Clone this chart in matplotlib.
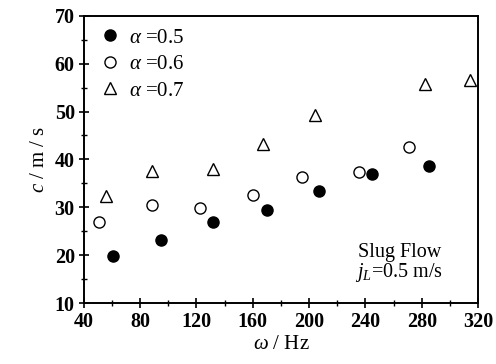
import matplotlib
matplotlib.use("Agg")
import matplotlib.pyplot as plt
from matplotlib.ticker import MultipleLocator

plt.rcParams['font.family'] = ['Liberation Serif', 'DejaVu Serif']
plt.rcParams['mathtext.fontset'] = 'custom'
plt.rcParams['mathtext.rm'] = 'Liberation Serif'
plt.rcParams['mathtext.it'] = 'Liberation Serif:italic'

freq_a05 = [60.4, 94.7, 131.9, 169.8, 207.2, 244.9, 285.4]
c_a05 = [19.9, 23.2, 26.9, 29.4, 33.5, 36.9, 38.6]
freq_a06 = [50.7, 88.5, 122.4, 160.3, 194.7, 235.5, 271.2]
c_a06 = [26.9, 30.5, 29.8, 32.6, 36.4, 37.3, 42.5]
freq_a07 = [55.6, 88.1, 131.9, 167.0, 204.2, 282.4, 314.3]
c_a07 = [32.4, 37.6, 38.1, 43.3, 49.2, 55.8, 56.5]
labels = [r'$\alpha$ =0.5', r'$\alpha$ =0.6', r'$\alpha$ =0.7']

fig = plt.figure(figsize=(4.96, 3.64), dpi=100)
ax = fig.add_axes([0.169, 0.167, 0.795, 0.790])

ax.plot(freq_a05, c_a05, 'o', ms=8, mfc='black', mec='black', ls='none', label=labels[0], clip_on=False)
ax.plot(freq_a06, c_a06, 'o', ms=8, mfc='white', mec='black', mew=1.0, ls='none', label=labels[1], clip_on=False)
ax.plot(freq_a07, c_a07, '^', ms=9, mfc='white', mec='black', mew=1.0, ls='none', label=labels[2], clip_on=False)

ax.set_xlim(40, 320)
ax.set_ylim(10, 70)
ax.xaxis.set_major_locator(MultipleLocator(40))
ax.xaxis.set_minor_locator(MultipleLocator(20))
ax.yaxis.set_major_locator(MultipleLocator(10))
ax.yaxis.set_minor_locator(MultipleLocator(5))
ax.tick_params(which='major', direction='inout', length=7, width=1.2, labelsize=14.5, pad=3)
ax.tick_params(which='minor', direction='inout', length=4, width=1.0)
for lab in ax.get_xticklabels() + ax.get_yticklabels():
    lab.set_fontweight('bold')
for sp in ax.spines.values():
    sp.set_linewidth(1.4)

ax.set_xlabel(r'$\omega$ / Hz', fontsize=15, labelpad=2)
ax.set_ylabel(r'$c$ / m / s', fontsize=15, labelpad=4)

leg = ax.legend(loc='upper left', frameon=False, fontsize=15, handletextpad=0.4,
                labelspacing=0.33, borderaxespad=0.2, handlelength=1.0,
                bbox_to_anchor=(0.008, 1.0))

ax.text(0.80, 0.176, 'Slug Flow', transform=ax.transAxes, ha='center', va='center', fontsize=14.5)
ax.text(0.80, 0.106, r'$j_L$=0.5 m/s', transform=ax.transAxes, ha='center', va='center', fontsize=14.5)

fig.savefig('out.png', dpi=100)
